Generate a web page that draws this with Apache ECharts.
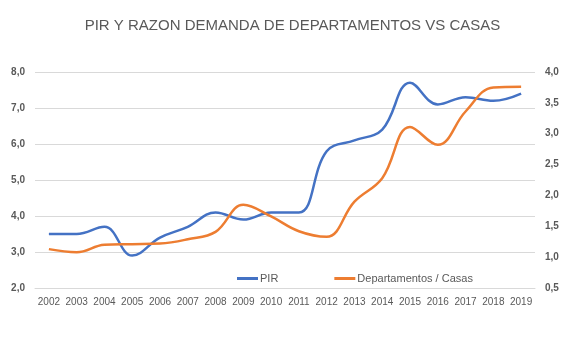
<!DOCTYPE html>
<html>
<head>
<meta charset="utf-8">
<script src="https://cdn.jsdelivr.net/npm/echarts@6/dist/echarts.min.js"></script>
<style>
  html, body { margin: 0; padding: 0; background: #ffffff; }
  #chart { width: 585px; height: 338px; }
</style>
</head>
<body>
<div id="chart"></div>
<script>
// Years on the category axis
const years = ['2002','2003','2004','2005','2006','2007','2008','2009','2010',
               '2011','2012','2013','2014','2015','2016','2017','2018','2019'];
// Price-to-income ratio (left axis)
const pir = [3.5, 3.5, 3.7, 2.9, 3.4, 3.7, 4.1, 3.9, 4.1,
             4.1, 5.8, 6.1, 6.4, 7.7, 7.1, 7.3, 7.2, 7.4];
// Apartments / houses demand ratio (right axis)
const deptoCasas = [1.13, 1.08, 1.2, 1.21, 1.22, 1.29, 1.41, 1.85, 1.66,
                    1.42, 1.33, 1.9, 2.28, 3.11, 2.82, 3.36, 3.75, 3.76];

const grey = '#595959';
const font = 'Liberation Sans';

const fmt = v => v.toFixed(1).replace('.', ',');

const chart = echarts.init(document.getElementById('chart'), null, { renderer: 'canvas' });
chart.setOption({
  backgroundColor: '#ffffff',
  animation: false,
  title: {
    text: 'PIR Y RAZON DEMANDA DE DEPARTAMENTOS VS CASAS',
    left: 'center',
    top: 13,
    textStyle: { color: grey, fontSize: 15, fontWeight: 'normal', fontFamily: font }
  },
  legend: {
    left: 237,
    top: 273,
    padding: 0,
    icon: 'rect',
    itemWidth: 21,
    itemHeight: 3,
    itemGap: 56,
    textStyle: { color: grey, fontSize: 11, fontFamily: font, padding: [0, 0, 0, -3] },
    data: ['PIR', 'Departamentos / Casas']
  },
  grid: { left: 35, right: 50, top: 72, bottom: 50 },
  xAxis: {
    type: 'category',
    data: years,
    boundaryGap: true,
    axisLine: { lineStyle: { color: '#d9d9d9' } },
    axisTick: { show: false },
    axisLabel: { color: grey, fontSize: 10, fontFamily: font, margin: 9, interval: 0 }
  },
  yAxis: [
    {
      type: 'value', min: 2, max: 8, interval: 1,
      axisLine: { show: false }, axisTick: { show: false },
      axisLabel: { color: grey, fontSize: 10, fontWeight: 'bold', fontFamily: font, margin: 10, formatter: fmt },
      splitLine: { lineStyle: { color: '#d9d9d9' } }
    },
    {
      type: 'value', min: 0.5, max: 4, interval: 0.5,
      axisLine: { show: false }, axisTick: { show: false },
      axisLabel: { color: grey, fontSize: 10, fontWeight: 'bold', fontFamily: font, margin: 10, formatter: fmt },
      splitLine: { show: false }
    }
  ],
  series: [
    {
      name: 'PIR', type: 'line', yAxisIndex: 0, data: pir,
      smooth: 0.4, showSymbol: false,
      lineStyle: { color: '#4472C4', width: 2.5 },
      itemStyle: { color: '#4472C4' }
    },
    {
      name: 'Departamentos / Casas', type: 'line', yAxisIndex: 1, data: deptoCasas,
      smooth: 0.4, showSymbol: false,
      lineStyle: { color: '#ED7D31', width: 2.5 },
      itemStyle: { color: '#ED7D31' }
    }
  ]
});
</script>
</body>
</html>
